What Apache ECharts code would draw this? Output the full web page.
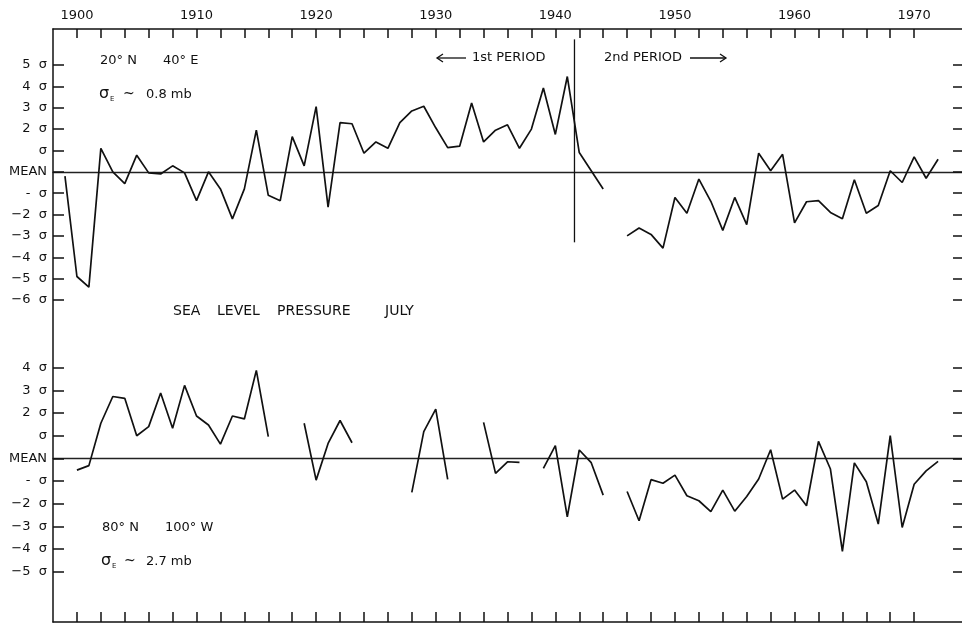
<!DOCTYPE html>
<html>
<head>
<meta charset="utf-8">
<script src="https://cdn.jsdelivr.net/npm/echarts@6/dist/echarts.min.js"></script>
<style>
html,body{margin:0;padding:0;background:#fff;}
#chart{width:962px;height:624px;}
</style>
</head>
<body>
<div id="chart"></div>
<script>
// ---- data ----
const years = [1899,1900,1901,1902,1903,1904,1905,1906,1907,1908,1909,1910,1911,1912,1913,1914,1915,1916,1917,1918,1919,
  1920,1921,1922,1923,1924,1925,1926,1927,1928,1929,1930,1931,1932,1933,1934,1935,1936,1937,1938,1939,
  1940,1941,1942,1943,1944,1945,1946,1947,1948,1949,1950,1951,1952,1953,1954,1955,1956,1957,1958,1959,
  1960,1961,1962,1963,1964,1965,1966,1967,1968,1969,1970,1971,1972];

// 20°N 40°E (in units of sigma)
const arabiaValues = [-0.2,-4.9,-5.4,1.1,0.0,-0.55,0.78,-0.05,-0.1,0.28,-0.05,-1.35,0.0,-0.8,-2.2,-0.8,1.95,-1.1,-1.35,1.65,0.28,
  3.05,-1.65,2.3,2.25,0.87,1.4,1.1,2.3,2.85,3.07,2.06,1.13,1.2,3.22,1.4,1.95,2.2,1.1,2.0,3.92,
  1.75,4.46,0.9,0.05,-0.8,null,-3.0,-2.63,-2.93,-3.57,-1.2,-1.94,-0.34,-1.38,-2.74,-1.2,-2.47,0.87,0.05,0.82,
  -2.39,-1.4,-1.35,-1.9,-2.2,-0.37,-1.94,-1.58,0.05,-0.5,0.7,-0.3,0.59];

// 80°N 100°W (in units of sigma)
const arcticValues = [null,-0.52,-0.32,1.55,2.73,2.65,1.0,1.4,2.88,1.33,3.22,1.87,1.47,0.63,1.87,1.74,3.88,0.96,null,null,1.55,
  -0.96,0.66,1.67,0.69,null,null,null,null,-1.5,1.18,2.17,-0.93,null,null,1.59,-0.66,-0.15,-0.18,null,-0.44,
  0.56,-2.58,0.37,-0.19,-1.62,null,-1.46,-2.75,-0.94,-1.1,-0.74,-1.65,-1.87,-2.35,-1.4,-2.33,-1.68,-0.91,0.38,-1.8,
  -1.4,-2.09,0.75,-0.47,-4.1,-0.2,-1.03,-2.9,1.0,-3.05,-1.14,-0.55,-0.13];

// period divider (year) and its vertical extent in sigma units of the upper panel
const dividerYear = 1941.6;
const dividerExtent = [-3.3, 6.2];

// axis ticks and labels
const yearTicks = [1900,1902,1904,1906,1908,1910,1912,1914,1916,1918,1920,1922,1924,1926,1928,1930,1932,1934,
  1936,1938,1940,1942,1944,1946,1948,1950,1952,1954,1956,1958,1960,1962,1964,1966,1968,1970];
const yearLabels = [1900,1910,1920,1930,1940,1950,1960,1970];
const topSigmaValues = [-6,-5,-4,-3,-2,-1,0,1,2,3,4,5];
const topSigmaLabels = ['\u22126  \u03c3','\u22125  \u03c3','\u22124  \u03c3','\u22123  \u03c3','\u22122  \u03c3','-  \u03c3','MEAN','\u03c3','2  \u03c3','3  \u03c3','4  \u03c3','5  \u03c3'];
const bottomSigmaValues = [-5,-4,-3,-2,-1,0,1,2,3,4];
const bottomSigmaLabels = ['\u22125  \u03c3','\u22124  \u03c3','\u22123  \u03c3','\u22122  \u03c3','-  \u03c3','MEAN','\u03c3','2  \u03c3','3  \u03c3','4  \u03c3'];

// ---- chart ----
const FONT = 'DejaVu Sans';
const INK = '#111';
const chart = echarts.init(document.getElementById('chart'), null, {renderer:'canvas'});

const toPairs = (vals) => years.map((y, i) => [y, vals[i] === null ? '-' : vals[i]]);

const xMin = 1898, xMax = 1974;
const L = 53, W = 912;

function panelX(gridIndex) {
  return {gridIndex, type:'value', min:xMin, max:xMax, position:'bottom',
    axisLine:{show:true, onZero:true, lineStyle:{color:'#222', width:1.4}},
    axisTick:{show:false}, axisLabel:{show:false}, splitLine:{show:false}};
}
function panelY(gridIndex, min, max, values, labels, side) {
  return {gridIndex, type:'value', min, max, interval:1, position:side,
    axisLine:{show:false, onZero:false},
    axisTick:{show:true, inside:true, length: side === 'left' ? 11 : 9, lineStyle:{color:INK, width:1.5}},
    axisLabel:{show: side === 'left', margin:6, fontFamily:FONT, fontSize:13, color:INK,
      formatter:(v) => { const k = values.indexOf(v); return k >= 0 ? labels[k] : ''; }},
    splitLine:{show:false}};
}

function txt(x, y, text, size, extra) {
  return Object.assign({type:'text', x, y, silent:true,
    style:{text, fontFamily:FONT, fontSize:size, fill:INK, verticalAlign:'middle', align:'left'}}, extra || {});
}

const option = {
  animation:false,
  backgroundColor:'#fff',
  grid:[
    {left:L, width:W, top:29, height:593},
    {left:L, width:W, top:65, height:235},
    {left:L, width:W, top:367.7, height:204}
  ],
  xAxis:[
    {gridIndex:0, type:'value', min:xMin, max:xMax, position:'top',
      axisLine:{show:true, onZero:false, lineStyle:{color:INK, width:1.5}},
      axisTick:{show:true, inside:true, length:9, customValues:yearTicks, lineStyle:{color:INK, width:1.5}},
      axisLabel:{show:true, margin:7, customValues:yearLabels, fontFamily:FONT, fontSize:13, color:INK,
        formatter:(v)=>String(v)},
      splitLine:{show:false}},
    {gridIndex:0, type:'value', min:xMin, max:xMax, position:'bottom',
      axisLine:{show:true, onZero:false, lineStyle:{color:INK, width:1.5}},
      axisTick:{show:true, inside:true, length:10, customValues:yearTicks, lineStyle:{color:INK, width:1.5}},
      axisLabel:{show:false}, splitLine:{show:false}},
    panelX(1),
    panelX(2)
  ],
  yAxis:[
    {gridIndex:0, type:'value', min:0, max:1, position:'left',
      axisLine:{show:true, onZero:false, lineStyle:{color:INK, width:1.5}},
      axisTick:{show:false}, axisLabel:{show:false}, splitLine:{show:false}},
    panelY(1, -6, 5, topSigmaValues, topSigmaLabels, 'left'),
    panelY(1, -6, 5, topSigmaValues, topSigmaLabels, 'right'),
    panelY(2, -5, 4, bottomSigmaValues, bottomSigmaLabels, 'left'),
    panelY(2, -5, 4, bottomSigmaValues, bottomSigmaLabels, 'right')
  ],
  series:[
    {name:'20N 40E', type:'line', xAxisIndex:2, yAxisIndex:1, data:toPairs(arabiaValues),
      symbol:'none', connectNulls:false, lineStyle:{color:INK, width:1.7}, silent:true},
    {name:'80N 100W', type:'line', xAxisIndex:3, yAxisIndex:3, data:toPairs(arcticValues),
      symbol:'none', connectNulls:false, lineStyle:{color:INK, width:1.7}, silent:true},
    {name:'divider', type:'line', xAxisIndex:2, yAxisIndex:1, clip:false,
      data:[[dividerYear, dividerExtent[0]],[dividerYear, dividerExtent[1]]],
      symbol:'none', lineStyle:{color:INK, width:1.3}, silent:true}
  ],
  graphic:[
    txt(100, 61, '20° N', 13),
    txt(163, 61, '40° E', 13),
    txt(99, 94, '\u03c3', 16),
    txt(110, 99, 'E', 7),
    txt(123, 94, '~', 14),
    txt(146, 95, '0.8 mb', 13),
    // period annotations
    {type:'line', silent:true, shape:{x1:437, y1:58, x2:466, y2:58}, style:{stroke:INK, lineWidth:1.3}},
    {type:'polyline', silent:true, shape:{points:[[443,54],[437,58],[443,62]]}, style:{stroke:INK, lineWidth:1.3, fill:null}},
    txt(472, 58, '1st PERIOD', 13),
    txt(604, 58, '2nd PERIOD', 13),
    {type:'line', silent:true, shape:{x1:690, y1:58, x2:726, y2:58}, style:{stroke:INK, lineWidth:1.3}},
    {type:'polyline', silent:true, shape:{points:[[720,54],[726,58],[720,62]]}, style:{stroke:INK, lineWidth:1.3, fill:null}},
    // title
    txt(173, 311, 'SEA', 14),
    txt(217, 311, 'LEVEL', 14),
    txt(277, 311, 'PRESSURE', 14),
    txt(385, 311, 'JULY', 14),
    // lower station
    txt(102, 528, '80° N', 13),
    txt(165, 528, '100° W', 13),
    txt(101, 561, '\u03c3', 16),
    txt(112, 566, 'E', 7),
    txt(124, 561, '~', 14),
    txt(146, 562, '2.7 mb', 13)
  ]
};
chart.setOption(option);
</script>
</body>
</html>
